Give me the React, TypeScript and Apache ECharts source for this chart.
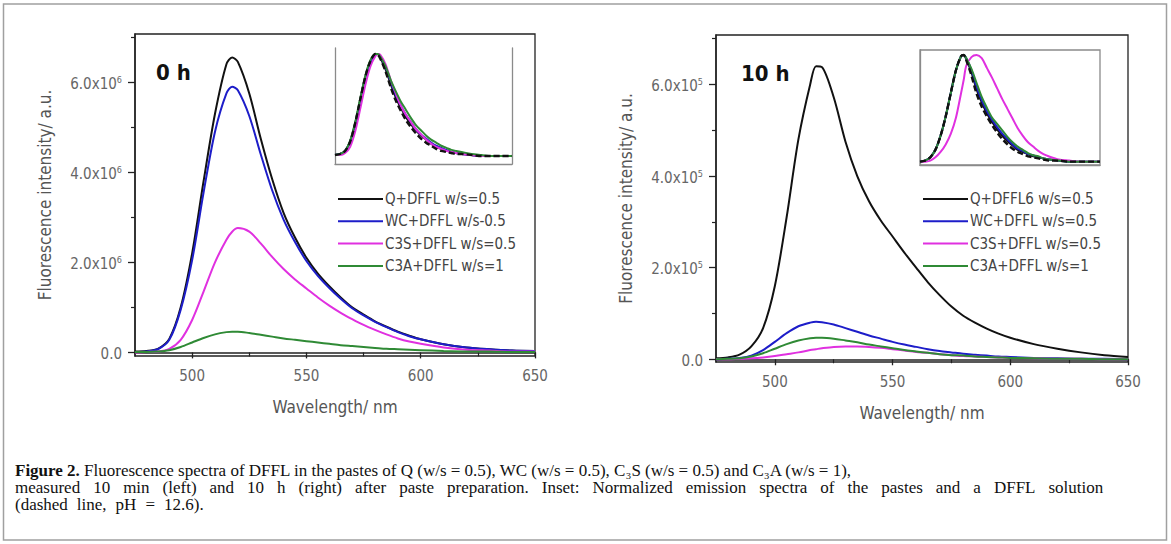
import React, { useEffect, useRef } from "react";
import * as echarts from "echarts";

// ---------- data ----------
const wavelengths = [475, 480, 485, 490, 495, 500, 505, 510, 515, 517.5, 520, 525, 530, 535, 540, 545, 550, 555, 560, 565, 570, 575, 580, 585, 590, 595, 600, 610, 620, 630, 640, 650];

// 0 h (units of 10^6)
const leftQ = [0.02, 0.03, 0.08, 0.3, 1.0, 2.2, 3.8, 5.3, 6.4, 6.55, 6.45, 5.75, 4.75, 3.85, 3.1, 2.55, 2.1, 1.75, 1.47, 1.22, 1.0, 0.84, 0.69, 0.57, 0.46, 0.37, 0.29, 0.18, 0.11, 0.07, 0.04, 0.03];
const leftWC = [0.01, 0.02, 0.07, 0.28, 0.95, 2.05, 3.55, 4.9, 5.75, 5.9, 5.82, 5.25, 4.4, 3.6, 2.95, 2.45, 2.03, 1.7, 1.43, 1.19, 0.98, 0.82, 0.68, 0.56, 0.45, 0.36, 0.29, 0.18, 0.11, 0.07, 0.04, 0.03];
const leftC3S = [0.0, 0.01, 0.02, 0.08, 0.28, 0.72, 1.35, 2.0, 2.5, 2.68, 2.76, 2.68, 2.42, 2.12, 1.85, 1.62, 1.42, 1.22, 1.04, 0.88, 0.74, 0.61, 0.5, 0.4, 0.31, 0.24, 0.19, 0.11, 0.06, 0.04, 0.02, 0.02];
const leftC3A = [0.01, 0.01, 0.02, 0.05, 0.12, 0.22, 0.32, 0.4, 0.45, 0.46, 0.46, 0.43, 0.39, 0.35, 0.31, 0.28, 0.25, 0.22, 0.19, 0.16, 0.14, 0.12, 0.1, 0.08, 0.07, 0.06, 0.05, 0.03, 0.02, 0.02, 0.01, 0.01];

// 10 h (units of 10^5 as labelled)
const rightQ = [0.02, 0.04, 0.1, 0.28, 0.68, 1.6, 3.1, 4.8, 6.0, 6.4, 6.38, 5.72, 4.75, 4.0, 3.45, 3.03, 2.68, 2.33, 2.0, 1.68, 1.4, 1.15, 0.95, 0.8, 0.67, 0.56, 0.47, 0.33, 0.23, 0.15, 0.09, 0.05];
const rightWC = [0.0, 0.01, 0.03, 0.08, 0.2, 0.38, 0.57, 0.72, 0.8, 0.82, 0.81, 0.76, 0.68, 0.6, 0.52, 0.45, 0.38, 0.32, 0.27, 0.22, 0.18, 0.15, 0.12, 0.1, 0.08, 0.06, 0.05, 0.03, 0.02, 0.01, 0.01, 0.0];
const rightC3S = [0, 0, 0.01, 0.02, 0.04, 0.07, 0.11, 0.15, 0.2, 0.22, 0.24, 0.27, 0.28, 0.28, 0.27, 0.25, 0.22, 0.19, 0.16, 0.14, 0.11, 0.09, 0.07, 0.06, 0.05, 0.04, 0.03, 0.02, 0.01, 0.01, 0, 0];
const rightC3A = [0.0, 0.01, 0.02, 0.06, 0.13, 0.23, 0.33, 0.41, 0.46, 0.47, 0.47, 0.45, 0.41, 0.37, 0.32, 0.28, 0.24, 0.2, 0.17, 0.14, 0.11, 0.09, 0.08, 0.06, 0.05, 0.04, 0.03, 0.02, 0.01, 0.01, 0, 0];

// insets (normalized)
const inset0Q = [0.02, 0.03, 0.06, 0.15, 0.33, 0.56, 0.78, 0.93, 1.0, 1.0, 0.96, 0.85, 0.71, 0.58, 0.48, 0.39, 0.32, 0.26, 0.21, 0.17, 0.13, 0.1, 0.08, 0.06, 0.05, 0.04, 0.03, 0.02, 0.01, 0.01, 0.01, 0.01];
const inset0WC = [0.02, 0.03, 0.06, 0.15, 0.32, 0.55, 0.77, 0.92, 0.99, 1.0, 0.97, 0.87, 0.73, 0.6, 0.5, 0.41, 0.34, 0.27, 0.22, 0.18, 0.14, 0.11, 0.09, 0.07, 0.05, 0.04, 0.03, 0.02, 0.01, 0.01, 0.01, 0.01];
const inset0C3S = [0.02, 0.02, 0.04, 0.1, 0.25, 0.47, 0.7, 0.88, 0.98, 1.0, 0.99, 0.9, 0.75, 0.62, 0.5, 0.41, 0.34, 0.27, 0.22, 0.17, 0.13, 0.1, 0.08, 0.06, 0.05, 0.04, 0.03, 0.02, 0.01, 0.01, 0.01, 0.01];
const inset0C3A = [0.02, 0.03, 0.06, 0.16, 0.34, 0.57, 0.79, 0.94, 1.0, 1.0, 0.97, 0.88, 0.75, 0.64, 0.54, 0.46, 0.38, 0.31, 0.26, 0.21, 0.17, 0.14, 0.11, 0.09, 0.07, 0.06, 0.05, 0.03, 0.02, 0.01, 0.01, 0.01];
const inset0DFFL = [0.02, 0.03, 0.06, 0.15, 0.33, 0.56, 0.78, 0.93, 1.0, 0.99, 0.95, 0.83, 0.68, 0.55, 0.45, 0.36, 0.29, 0.23, 0.18, 0.14, 0.11, 0.08, 0.06, 0.05, 0.04, 0.03, 0.03, 0.02, 0.01, 0.01, 0.01, 0.01];

const inset10Q = [0.01, 0.02, 0.05, 0.12, 0.25, 0.43, 0.65, 0.86, 0.99, 1.0, 0.96, 0.84, 0.68, 0.56, 0.46, 0.38, 0.31, 0.25, 0.2, 0.16, 0.12, 0.1, 0.08, 0.06, 0.05, 0.04, 0.03, 0.02, 0.01, 0.01, 0.01, 0.01];
const inset10WC = [0.01, 0.02, 0.05, 0.12, 0.25, 0.43, 0.65, 0.86, 0.99, 1.0, 0.97, 0.86, 0.7, 0.58, 0.48, 0.4, 0.33, 0.27, 0.22, 0.17, 0.13, 0.11, 0.08, 0.07, 0.05, 0.04, 0.03, 0.02, 0.01, 0.01, 0.01, 0.01];
const inset10C3S = [0.01, 0.01, 0.02, 0.05, 0.1, 0.17, 0.27, 0.42, 0.65, 0.77, 0.9, 0.98, 1.0, 0.97, 0.88, 0.79, 0.69, 0.59, 0.5, 0.41, 0.32, 0.25, 0.19, 0.15, 0.11, 0.08, 0.06, 0.03, 0.02, 0.01, 0.01, 0.01];
const inset10C3A = [0.01, 0.02, 0.05, 0.12, 0.25, 0.43, 0.65, 0.86, 0.99, 1.0, 0.97, 0.87, 0.74, 0.61, 0.51, 0.42, 0.36, 0.3, 0.24, 0.19, 0.15, 0.12, 0.09, 0.07, 0.06, 0.04, 0.03, 0.02, 0.01, 0.01, 0.01, 0.01];
const inset10DFFL = [0.01, 0.02, 0.05, 0.12, 0.25, 0.43, 0.65, 0.86, 0.99, 1.0, 0.95, 0.81, 0.64, 0.52, 0.43, 0.35, 0.28, 0.22, 0.17, 0.13, 0.1, 0.08, 0.06, 0.05, 0.04, 0.03, 0.02, 0.02, 0.01, 0.01, 0.01, 0.01];

const namesLeft = ["Q+DFFL w/s=0.5", "WC+DFFL w/s-0.5", "C3S+DFFL w/s=0.5", "C3A+DFFL w/s=1"];
const namesRight = ["Q+DFFL6 w/s=0.5", "WC+DFFL w/s=0.5", "C3S+DFFL w/s=0.5", "C3A+DFFL w/s=1"];
const panelTitles = ["0 h", "10 h"];
const yExponents = ["6", "5"];
const yMajorTicks = [0, 2, 4, 6];
const yMinorTicks = [1, 3, 5, 7];
const xMajorTicks = [500, 550, 600, 650];
const xMinorTicks = [525, 575, 625];
const xTitle = "Wavelength/ nm";
const yTitle = "Fluorescence intensity/ a.u.";

const captionBold = "Figure 2.";
const captionLine1 = " Fluorescence spectra of DFFL in the pastes of Q (w/s = 0.5), WC (w/s = 0.5), C\u2083S (w/s = 0.5) and C\u2083A (w/s = 1),";
const captionLine2 = "measured 10 min (left) and 10 h (right) after paste preparation. Inset: Normalized emission spectra of the pastes and a DFFL solution";
const captionLine3 = "(dashed line, pH = 12.6).";

const COLORS = ["#111111", "#1d1dc9", "#e030e0", "#2f8a35"];

const FONT = "'DejaVu Sans Condensed', 'DejaVu Sans', sans-serif";
const SERIF = "'Liberation Serif', 'DejaVu Serif', serif";

const pairs = (ys: number[]) => wavelengths.map((w, i) => [w, ys[i]]);

function buildOption() {
  const grids = [
    { left: 135, top: 34, width: 400, height: 322, show: true, borderColor: "#222", borderWidth: 1.3 },
    { left: 335, top: 48, width: 177, height: 116, show: false },
    { left: 716, top: 35, width: 412, height: 327, show: true, borderColor: "#222", borderWidth: 1.3 },
    { left: 920, top: 50, width: 180, height: 115, show: true, borderColor: "#8a8a8a", borderWidth: 1.3 },
  ];
  const yRanges = [
    [-0.08, 7.07],
    [-0.067, 1.058],
    [-0.06, 7.08],
    [-0.021, 1.046],
  ];

  const xAxis: any[] = [];
  const yAxis: any[] = [];

  const mainX = (g: number) => ({
    type: "value", gridIndex: g, min: 475, max: 650, position: "bottom",
    axisLine: { show: true, lineStyle: { color: "#222", width: 1.5 } },
    axisTick: { show: true, customValues: xMajorTicks, length: 6, lineStyle: { color: "#222", width: 1.3 } },
    axisLabel: { show: true, customValues: xMajorTicks, margin: 12, color: "#666", fontSize: 15, fontFamily: FONT },
    splitLine: { show: false },
    name: xTitle, nameLocation: "middle", nameGap: 42,
    nameTextStyle: { fontSize: 17, color: "#555", fontFamily: FONT },
  });
  const minorX = (g: number) => ({
    type: "value", gridIndex: g, min: 475, max: 650, position: "bottom",
    axisLine: { show: false },
    axisTick: { show: true, customValues: xMinorTicks, length: 4, lineStyle: { color: "#222", width: 1.2 } },
    axisLabel: { show: false, customValues: xMinorTicks },
    splitLine: { show: false },
  });
  const insetX = (g: number) => ({
    type: "value", gridIndex: g, min: 475, max: 650, position: "bottom",
    axisLine: { show: true, onZero: false, lineStyle: { color: "#8a8a8a", width: 1.3 } },
    axisTick: { show: false }, axisLabel: { show: false }, splitLine: { show: false },
  });
  const mainY = (g: number, r: number[], exp: string) => ({
    type: "value", gridIndex: g, min: r[0], max: r[1], position: "left",
    axisLine: { show: true, onZero: false, lineStyle: { color: "#222", width: 1.5 } },
    axisTick: { show: true, customValues: yMajorTicks, length: 7, lineStyle: { color: "#222", width: 1.3 } },
    axisLabel: {
      show: true, customValues: yMajorTicks, margin: 13,
      formatter: (v: number) => (v === 0 ? "{m|0.0}" : `{m|${v.toFixed(1)}x10}{s|${exp}}`),
      rich: {
        m: { fontSize: 15, color: "#666", fontFamily: FONT, verticalAlign: "bottom", lineHeight: 18 },
        s: { fontSize: 9, color: "#666", fontFamily: FONT, verticalAlign: "bottom", lineHeight: 18, padding: [0, 0, 7, 0] },
      },
    },
    splitLine: { show: false },
    name: yTitle, nameLocation: "middle", nameGap: 82,
    nameTextStyle: { fontSize: 17, color: "#555", fontFamily: FONT },
  });
  const minorY = (g: number, r: number[]) => ({
    type: "value", gridIndex: g, min: r[0], max: r[1], position: "left",
    axisLine: { show: false, onZero: false },
    axisTick: { show: true, customValues: yMinorTicks, length: 4, lineStyle: { color: "#222", width: 1.2 } },
    axisLabel: { show: false, customValues: yMinorTicks },
    splitLine: { show: false },
  });
  const insetY = (g: number, r: number[], pos: string) => ({
    type: "value", gridIndex: g, min: r[0], max: r[1], position: pos,
    axisLine: { show: true, onZero: false, lineStyle: { color: "#8a8a8a", width: 1.3 } },
    axisTick: { show: false }, axisLabel: { show: false }, splitLine: { show: false },
  });

  xAxis.push(mainX(0)); // 0
  xAxis.push(minorX(0)); // 1
  xAxis.push(insetX(1)); // 2
  xAxis.push(mainX(2)); // 3
  xAxis.push(minorX(2)); // 4
  xAxis.push(insetX(3)); // 5
  yAxis.push(mainY(0, yRanges[0], yExponents[0])); // 0
  yAxis.push(minorY(0, yRanges[0])); // 1
  yAxis.push(insetY(1, yRanges[1], "left")); // 2
  yAxis.push(insetY(1, yRanges[1], "right")); // 3
  yAxis.push(mainY(2, yRanges[2], yExponents[1])); // 4
  yAxis.push(minorY(2, yRanges[2])); // 5
  yAxis.push(insetY(3, yRanges[3], "left")); // 6

  const line = (name: string, data: number[], color: string, xi: number, yi: number, extra: any = {}) => ({
    type: "line", name, data: pairs(data), xAxisIndex: xi, yAxisIndex: yi,
    showSymbol: false, symbol: "none", smooth: 0.3, silent: true,
    lineStyle: { color, width: 2, ...(extra.lineStyle || {}) },
    itemStyle: { color },
    z: extra.z || 2,
  });

  const leftData = [leftQ, leftWC, leftC3S, leftC3A];
  const rightData = [rightQ, rightWC, rightC3S, rightC3A];
  const inset0 = [inset0Q, inset0WC, inset0C3S, inset0C3A];
  const inset10 = [inset10Q, inset10WC, inset10C3S, inset10C3A];

  const series: any[] = [];
  leftData.forEach((d, i) => series.push(line(namesLeft[i], d, COLORS[i], 0, 0)));
  rightData.forEach((d, i) => series.push(line(namesRight[i], d, COLORS[i], 3, 4)));
  inset0.forEach((d, i) => series.push(line(`inset 0 h ${i}`, d, COLORS[i], 2, 2)));
  series.push(line("inset 0 h DFFL solution", inset0DFFL, "#111", 2, 2, { lineStyle: { type: [6, 3], width: 2.4 }, z: 3 }));
  inset10.forEach((d, i) => series.push(line(`inset 10 h ${i}`, d, COLORS[i], 5, 6)));
  series.push(line("inset 10 h DFFL solution", inset10DFFL, "#111", 5, 6, { lineStyle: { type: [6, 3], width: 2.4 }, z: 3 }));

  const legendCommon = {
    orient: "vertical", icon: "rect", itemWidth: 45, itemHeight: 2, itemGap: 6.3,
    selectedMode: false,
    textStyle: { fontSize: 15, color: "#444", fontFamily: FONT, lineHeight: 16, padding: [0, 0, 0, -3] },
    padding: 0,
  };

  const capSize = 17;
  const capRich = {
    b: { fontFamily: SERIF, fontWeight: "bold", fontSize: capSize, lineHeight: 16, fill: "#111" },
    r: { fontFamily: SERIF, fontSize: capSize, lineHeight: 16, fill: "#111" },
    sp: { fontFamily: SERIF, fontSize: capSize, lineHeight: 16, width: 13 },
    sp3: { fontFamily: SERIF, fontSize: capSize, lineHeight: 16, width: 9 },
  };
  const spaced = (s: string, tok: string) => s.split(" ").map((w) => `{r|${w}}`).join(`{${tok}| }`);

  const graphic: any[] = [
    { type: "rect", shape: { x: 3.5, y: 4, width: 1163, height: 536 }, style: { fill: "none", stroke: "#a0a0a0", lineWidth: 1.5 }, z: 0 },
    { type: "text", x: 156, y: 72, style: { text: panelTitles[0], font: `bold 22px ${FONT}`, fill: "#111", verticalAlign: "middle" }, z: 10 },
    { type: "text", x: 741, y: 73, style: { text: panelTitles[1], font: `bold 22px ${FONT}`, fill: "#111", verticalAlign: "middle" }, z: 10 },
    { type: "text", x: 15, y: 470, style: { text: `{b|${captionBold}}{r|${captionLine1}}`, verticalAlign: "middle", rich: capRich } },
    { type: "text", x: 15, y: 487, style: { text: spaced(captionLine2, "sp"), verticalAlign: "middle", rich: capRich } },
    { type: "text", x: 15, y: 504, style: { text: spaced(captionLine3, "sp3"), verticalAlign: "middle", rich: capRich } },
  ];

  return {
    animation: false,
    backgroundColor: "#fff",
    grid: grids,
    xAxis, yAxis, series,
    legend: [
      { ...legendCommon, data: namesLeft, left: 338, top: 191 },
      { ...legendCommon, data: namesRight, left: 923, top: 191 },
    ],
    graphic,
  };
}

export default function App() {
  const ref = useRef<HTMLDivElement>(null);
  useEffect(() => {
    if (!ref.current) return;
    const chart = echarts.init(ref.current, null, { renderer: "svg" });
    chart.setOption(buildOption() as any);
    return () => chart.dispose();
  }, []);
  return <div ref={ref} style={{ position: "absolute", left: 0, top: 0, width: 1171, height: 544, background: "#fff" }} />;
}
